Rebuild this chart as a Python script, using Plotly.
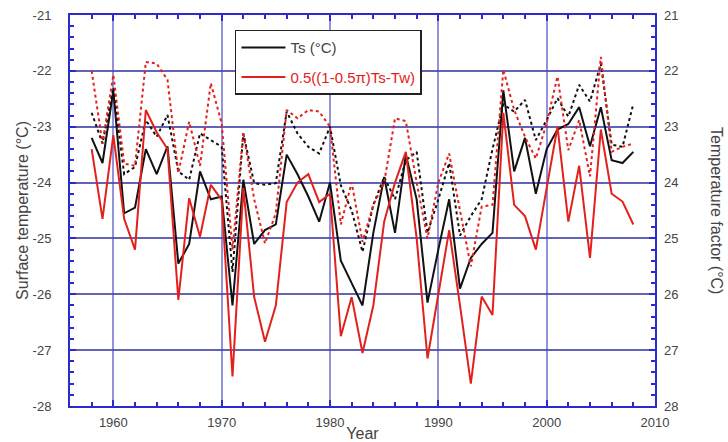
import plotly.graph_objects as go

years = list(range(1958, 2009))

ts_solid = [-23.2, -23.65, -22.35, -24.55, -24.45, -23.4, -23.85, -23.35, -25.45, -25.1,
            -23.8, -24.3, -24.25, -26.2, -23.95, -25.1, -24.85, -24.75, -23.5, -23.85,
            -24.25, -24.7, -24.0, -25.4, -25.8, -26.2, -24.9, -23.9, -24.9, -23.5,
            -24.3, -26.15, -25.2, -24.3, -25.9, -25.35, -25.1, -24.9, -22.35, -23.8,
            -23.2, -24.2, -23.4, -23.05, -22.95, -22.65, -23.35, -22.65, -23.6, -23.65,
            -23.45]

ts_dotted = [-22.75, -23.3, -22.3, -23.85, -23.72, -22.88, -23.18, -22.79, -23.8, -23.95,
             -23.12, -23.24, -23.36, -25.6, -23.12, -24.01, -24.04, -24.01, -22.73, -23.12,
             -23.36, -23.48, -23.0, -24.05, -24.5, -25.24, -24.4, -23.9, -24.3, -23.6,
             -23.45, -24.9, -24.3, -23.65, -24.95, -24.6, -24.3, -23.4, -22.6, -22.73,
             -22.52, -23.24, -22.88, -22.49, -22.82, -22.25, -22.55, -21.87, -23.32, -23.36,
             -22.59]

tf_solid = [23.4, 24.65, 23.15, 24.65, 25.2, 22.7, 23.1, 23.4, 26.1, 24.28,
            24.97, 24.04, 24.31, 27.47, 24.1, 26.05, 26.85, 26.2, 24.35, 24.0,
            23.85, 24.35, 24.2, 26.75, 26.05, 27.05, 26.2, 24.7, 24.0, 23.45,
            25.0, 27.15, 26.0, 24.85, 26.2, 27.6, 26.04, 26.37, 22.75, 24.4,
            24.6, 25.2, 24.1, 23.0, 24.7, 23.7, 25.35, 23.05, 24.2, 24.34,
            24.75]

tf_dotted = [22.0, 23.3, 22.07, 23.66, 23.7, 21.84, 21.87, 22.16, 23.83, 22.91,
             23.7, 22.22, 22.94, 25.2, 23.1, 24.3, 25.09, 24.55, 22.7, 22.85,
             22.7, 22.73, 23.0, 24.75, 24.0, 25.06, 24.4, 24.0, 22.85, 22.9,
             24.0, 25.0, 24.0, 23.48, 24.5, 25.5, 24.43, 24.4, 21.98, 22.7,
             23.18, 23.57, 22.94, 22.1, 23.42, 22.88, 23.89, 21.75, 23.45, 23.36,
             23.3]

BLACK = "#111111"
RED = "#e3211c"
AXIS = "#2a2ad0"
TXT = "#444444"
FONT = "Liberation Sans, Arial, Helvetica, sans-serif"

fig = go.Figure()
fig.add_trace(go.Scatter(x=years, y=ts_dotted, mode="lines", showlegend=False,
                         line=dict(color=BLACK, width=2, dash="dot"), yaxis="y"))
fig.add_trace(go.Scatter(x=years, y=tf_dotted, mode="lines", showlegend=False,
                         line=dict(color=RED, width=2, dash="dot"), yaxis="y2"))
fig.add_trace(go.Scatter(x=years, y=ts_solid, mode="lines", name="Ts (°C)",
                         legendgroup="a",
                         line=dict(color=BLACK, width=2), yaxis="y"))
fig.add_trace(go.Scatter(x=years, y=tf_solid, mode="lines", legendgroup="b",
                         name="<span style='color:#e3211c'>0.5((1-0.5π)Ts-Tw)</span>",
                         line=dict(color=RED, width=2), yaxis="y2"))

fig.update_layout(
    width=728, height=442,
    margin=dict(l=70, r=73, t=15, b=36),
    paper_bgcolor="white", plot_bgcolor="white",
    font=dict(family=FONT, size=13, color=TXT),
    showlegend=True,
    legend=dict(x=0.282, y=0.962, xanchor="left", yanchor="top",
                bgcolor="white", bordercolor="#222222", borderwidth=1.5,
                font=dict(size=15, color=TXT), tracegroupgap=7, itemwidth=44),
    xaxis=dict(range=[1956, 2010], tickmode="array",
               tickvals=[1960, 1970, 1980, 1990, 2000, 2010],
               ticktext=["1960", "1970", "1980", "1990", "2000", "2010"],
               ticks="inside", ticklen=6, tickwidth=1.5, tickcolor=AXIS,
               minor=dict(dtick=2, tick0=1956, ticks="inside", ticklen=4, tickcolor=AXIS, showgrid=False),
               showline=True, linecolor=AXIS, linewidth=2, mirror="ticks",
               showgrid=True, gridcolor="rgba(110,110,210,0.75)", gridwidth=1.5,
               zeroline=False, automargin=False, ticklabelstandoff=3,
               title=dict(text="Year", font=dict(size=16, color=TXT), standoff=6)),
    yaxis=dict(range=[-28, -21], tickmode="array",
               tickvals=[-28, -27, -26, -25, -24, -23, -22, -21],
               ticktext=["-28", "-27", "-26", "-25", "-24", "-23", "-22", "-21"],
               ticks="inside", ticklen=6, tickwidth=1.5, tickcolor=AXIS,
               minor=dict(dtick=0.2, tick0=-28, ticks="inside", ticklen=4, tickcolor=AXIS, showgrid=False),
               showline=True, linecolor=AXIS, linewidth=2, mirror=True,
               showgrid=True, gridcolor="rgba(70,70,170,0.85)", gridwidth=1.5,
               zeroline=False, ticklabelstandoff=14, automargin=False,
               title=dict(text="Surface temperature (°C)", font=dict(size=16, color=TXT), standoff=0)),
    yaxis2=dict(range=[28, 21], overlaying="y", side="right",
                tickmode="array", tickvals=[21, 22, 23, 24, 25, 26, 27, 28],
                ticktext=["21", "22", "23", "24", "25", "26", "27", "28"],
                ticks="inside", ticklen=6, tickwidth=1.5, tickcolor=AXIS,
                minor=dict(dtick=0.2, tick0=21, ticks="inside", ticklen=4, tickcolor=AXIS, showgrid=False),
                showline=False, showgrid=False, zeroline=False, ticklabelstandoff=8,
                automargin=False),
    annotations=[dict(text="Temperature factor (°C)", textangle=90, x=1.105, y=0.5,
                      xref="paper", yref="paper", xanchor="center", yanchor="middle",
                      showarrow=False, font=dict(size=16, color=TXT))],
)

fig.write_html("out.html")
